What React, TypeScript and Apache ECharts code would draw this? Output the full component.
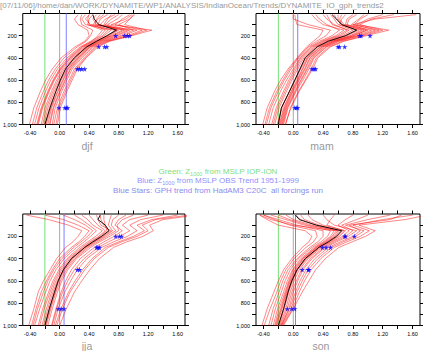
import React, { useEffect, useRef } from 'react';
import * as echarts from 'echarts';

// ---------- data ----------
const TITLE = '[07/11/06]/home/dan/WORK/DYNAMITE/WP1/ANALYSIS/IndianOcean/Trends/DYNAMITE_IO_gph_trends2';
const SEASONS = ['djf', 'mam', 'jja', 'son'];
const LEVELS = [10, 50, 100, 150, 200, 250, 300, 400, 500, 600, 700, 850, 1000];
const Y_RANGE = [0, 1000];
const X_RANGE = [-0.5, 1.7];
const X_LABELS = [-0.4, 0, 0.4, 0.8, 1.2, 1.6];
const X_TICKS = [-0.4, -0.2, 0, 0.2, 0.4, 0.6, 0.8, 1.0, 1.2, 1.4, 1.6];
const Y_LABELS = [200, 400, 600, 800, 1000];
const Y_TICKS = [100, 200, 300, 400, 500, 600, 700, 800, 900, 1000];
const GREEN_LINES = [-0.2, -0.2, -0.2, -0.2];
const ZERO_LINE = 0;
const BLUE_LINES = [0.09, 0.06, 0.06, 0.03];
const STAR_LEVELS = [200, 300, 500, 850];

const DJF_MEMBERS = [
  [0.75, 0.62, 0.55, 0.80, 0.68, 0.51, 0.37, 0.20, 0.08, 0.00, -0.07, -0.16, -0.21],
  [0.40, 0.35, 0.42, 1.05, 0.86, 0.62, 0.46, 0.30, 0.17, 0.10, 0.03, -0.06, -0.10],
  [0.98, 0.90, 0.70, 1.25, 0.98, 0.68, 0.52, 0.36, 0.24, 0.17, 0.10, 0.01, -0.03],
  [0.30, 0.28, 0.30, 0.45, 0.42, 0.36, 0.24, 0.06, -0.06, -0.15, -0.22, -0.31, -0.37],
  [0.55, 0.50, 0.48, 0.70, 0.60, 0.47, 0.33, 0.15, 0.02, -0.07, -0.14, -0.23, -0.29],
  [0.95, 0.85, 0.75, 1.12, 0.92, 0.64, 0.48, 0.33, 0.20, 0.13, 0.06, -0.03, -0.08],
  [0.60, 0.52, 0.45, 0.62, 0.55, 0.42, 0.28, 0.10, -0.03, -0.12, -0.19, -0.28, -0.34],
  [0.25, 0.20, 0.25, 0.38, 0.40, 0.34, 0.21, 0.02, -0.10, -0.19, -0.26, -0.35, -0.41],
  [0.85, 0.78, 0.65, 0.95, 0.78, 0.58, 0.42, 0.25, 0.12, 0.05, -0.02, -0.11, -0.16],
  [0.50, 0.45, 0.50, 0.88, 0.72, 0.53, 0.39, 0.22, 0.10, 0.02, -0.05, -0.14, -0.19],
  [1.02, 0.95, 0.88, 1.18, 0.95, 0.66, 0.50, 0.35, 0.22, 0.15, 0.08, -0.01, -0.05],
  [0.45, 0.40, 0.38, 0.58, 0.52, 0.44, 0.30, 0.12, 0.00, -0.09, -0.16, -0.25, -0.31],
  [0.70, 0.65, 0.60, 0.85, 0.70, 0.54, 0.40, 0.24, 0.11, 0.04, -0.03, -0.12, -0.18],
  [0.35, 0.30, 0.35, 0.75, 0.65, 0.49, 0.35, 0.17, 0.04, -0.04, -0.11, -0.20, -0.25],
  [1.00, 0.95, 0.80, 1.00, 0.82, 0.60, 0.44, 0.28, 0.15, 0.08, 0.01, -0.08, -0.13],
  [0.65, 0.55, 0.52, 0.92, 0.75, 0.56, 0.41, 0.26, 0.14, 0.07, 0.00, -0.09, -0.14],
  [0.40, 0.38, 0.40, 0.66, 0.58, 0.45, 0.31, 0.14, 0.01, -0.08, -0.15, -0.24, -0.30],
  [0.80, 0.70, 0.62, 0.78, 0.66, 0.50, 0.36, 0.19, 0.06, -0.02, -0.09, -0.18, -0.23],
];
const DJF_MEAN = [0.45, 0.47, 0.53, 0.77, 0.64, 0.50, 0.37, 0.20, 0.08, 0.01, -0.05, -0.13, -0.20];
const DJF_STARS = [[0.76, 0.88, 0.92, 0.95], [0.53, 0.61, 0.64], [0.24, 0.27, 0.30, 0.34], [-0.01, 0.07, 0.09, 0.11]];

const MAM_MEMBERS = [
  [0.55, 0.58, 0.65, 0.85, 0.70, 0.47, 0.32, 0.16, 0.09, 0.02, -0.05, -0.16, -0.21],
  [1.20, 1.00, 0.85, 1.28, 0.98, 0.68, 0.50, 0.33, 0.26, 0.17, 0.08, -0.03, -0.11],
  [0.02, 0.03, 0.05, 0.40, 0.36, 0.27, 0.18, 0.05, -0.07, -0.17, -0.25, -0.35, -0.41],
  [0.80, 0.72, 0.70, 1.05, 0.85, 0.58, 0.42, 0.25, 0.18, 0.10, 0.02, -0.09, -0.15],
  [0.40, 0.45, 0.55, 0.72, 0.60, 0.40, 0.26, 0.10, 0.02, -0.06, -0.13, -0.23, -0.29],
  [1.65, 1.10, 0.80, 1.15, 0.90, 0.62, 0.45, 0.28, 0.21, 0.13, 0.04, -0.07, -0.13],
  [0.30, 0.35, 0.45, 0.62, 0.52, 0.35, 0.22, 0.07, -0.03, -0.12, -0.20, -0.30, -0.36],
  [0.65, 0.62, 0.68, 0.92, 0.76, 0.52, 0.36, 0.19, 0.12, 0.05, -0.03, -0.13, -0.19],
  [0.95, 0.88, 0.78, 1.00, 0.80, 0.55, 0.39, 0.22, 0.15, 0.07, -0.01, -0.11, -0.17],
  [0.00, 0.00, 0.20, 0.50, 0.44, 0.31, 0.20, 0.06, -0.05, -0.14, -0.22, -0.32, -0.38],
  [0.50, 0.55, 0.60, 0.80, 0.66, 0.45, 0.30, 0.14, 0.06, -0.02, -0.09, -0.19, -0.25],
  [1.35, 1.05, 0.89, 1.20, 0.95, 0.66, 0.48, 0.31, 0.24, 0.16, 0.07, -0.04, -0.10],
  [0.70, 0.65, 0.62, 0.88, 0.72, 0.50, 0.34, 0.18, 0.10, 0.03, -0.05, -0.15, -0.21],
  [0.25, 0.30, 0.40, 0.68, 0.57, 0.38, 0.24, 0.09, 0.00, -0.09, -0.17, -0.27, -0.33],
  [1.00, 0.90, 0.82, 1.10, 0.88, 0.60, 0.44, 0.27, 0.19, 0.11, 0.03, -0.08, -0.14],
  [0.60, 0.60, 0.66, 0.95, 0.78, 0.53, 0.37, 0.20, 0.13, 0.06, -0.02, -0.12, -0.18],
  [0.45, 0.48, 0.52, 0.75, 0.63, 0.43, 0.28, 0.12, 0.04, -0.04, -0.11, -0.21, -0.27],
  [0.85, 0.75, 0.72, 0.98, 0.82, 0.56, 0.40, 0.23, 0.16, 0.08, 0.00, -0.10, -0.16],
];
const MAM_MEAN = [0.52, 0.58, 0.65, 0.85, 0.70, 0.47, 0.32, 0.16, 0.09, 0.02, -0.05, -0.16, -0.20];
const MAM_STARS = [[0.89, 0.91, 1.03], [0.60, 0.62, 0.69], [0.25, 0.28, 0.30], [0.02, 0.04, 0.06]];

const JJA_MEMBERS = [
  [0.55, 0.56, 0.60, 0.67, 0.57, 0.45, 0.34, 0.16, 0.05, -0.02, -0.07, -0.14, -0.20],
  [-0.45, -0.15, 0.12, 0.30, 0.25, 0.18, 0.08, -0.04, -0.13, -0.22, -0.29, -0.35, -0.42],
  [1.85, 1.40, 1.22, 1.27, 1.13, 0.91, 0.73, 0.54, 0.41, 0.30, 0.20, 0.09, 0.00],
  [0.90, 0.80, 0.75, 0.85, 0.74, 0.60, 0.47, 0.28, 0.16, 0.08, 0.02, -0.05, -0.11],
  [0.20, 0.30, 0.40, 0.50, 0.42, 0.33, 0.23, 0.06, -0.05, -0.13, -0.19, -0.27, -0.34],
  [1.60, 1.25, 1.05, 1.15, 1.00, 0.80, 0.62, 0.44, 0.31, 0.21, 0.12, 0.02, -0.06],
  [0.40, 0.45, 0.52, 0.62, 0.53, 0.41, 0.30, 0.12, 0.01, -0.07, -0.13, -0.21, -0.27],
  [1.20, 0.95, 0.85, 0.95, 0.82, 0.66, 0.52, 0.33, 0.20, 0.11, 0.04, -0.04, -0.10],
  [-0.20, 0.05, 0.25, 0.40, 0.34, 0.26, 0.16, 0.00, -0.10, -0.18, -0.25, -0.32, -0.38],
  [0.70, 0.68, 0.66, 0.72, 0.61, 0.48, 0.37, 0.19, 0.07, -0.01, -0.06, -0.13, -0.19],
  [1.75, 1.30, 1.12, 1.20, 1.05, 0.84, 0.66, 0.47, 0.34, 0.24, 0.14, 0.04, -0.04],
  [0.30, 0.38, 0.45, 0.58, 0.49, 0.38, 0.27, 0.10, -0.01, -0.09, -0.15, -0.23, -0.29],
  [1.00, 0.85, 0.78, 0.80, 0.68, 0.54, 0.42, 0.23, 0.11, 0.03, -0.03, -0.10, -0.16],
  [0.60, 0.60, 0.62, 0.64, 0.55, 0.43, 0.32, 0.14, 0.03, -0.05, -0.11, -0.18, -0.24],
  [1.40, 1.10, 0.95, 1.05, 0.92, 0.73, 0.57, 0.37, 0.24, 0.15, 0.07, -0.02, -0.08],
  [0.05, 0.20, 0.35, 0.45, 0.38, 0.29, 0.19, 0.03, -0.08, -0.16, -0.22, -0.30, -0.36],
  [0.80, 0.72, 0.70, 0.76, 0.64, 0.51, 0.39, 0.21, 0.09, 0.01, -0.05, -0.12, -0.18],
  [0.50, 0.52, 0.56, 0.70, 0.59, 0.47, 0.35, 0.17, 0.06, -0.03, -0.09, -0.16, -0.22],
];
const JJA_MEAN = [0.55, 0.52, 0.62, 0.67, 0.57, 0.45, 0.34, 0.16, 0.05, -0.02, -0.07, -0.14, -0.20];
const JJA_STARS = [[0.76, 0.81, 0.84], [0.50, 0.52, 0.54], [0.24, 0.27], [-0.02, 0.02, 0.06]];

const SON_MEMBERS = [
  [0.03, 0.10, 0.31, 0.65, 0.58, 0.47, 0.34, 0.16, 0.05, -0.02, -0.07, -0.13, -0.20],
  [-0.45, -0.30, 0.00, 0.55, 0.50, 0.40, 0.28, 0.10, -0.01, -0.08, -0.13, -0.21, -0.27],
  [1.80, 1.50, 0.88, 1.10, 0.97, 0.79, 0.61, 0.43, 0.30, 0.21, 0.12, 0.00, -0.13],
  [0.40, 0.45, 0.55, 0.85, 0.74, 0.58, 0.43, 0.25, 0.13, 0.06, 0.00, -0.06, -0.16],
  [-0.40, -0.25, -0.05, 0.30, 0.32, 0.27, 0.17, 0.01, -0.10, -0.17, -0.22, -0.31, -0.39],
  [1.30, 1.00, 0.70, 0.95, 0.84, 0.67, 0.51, 0.33, 0.20, 0.12, 0.05, -0.03, -0.15],
  [-0.20, -0.05, 0.20, 0.60, 0.54, 0.44, 0.31, 0.13, 0.02, -0.05, -0.10, -0.17, -0.24],
  [0.80, 0.70, 0.60, 0.75, 0.66, 0.52, 0.38, 0.20, 0.08, 0.01, -0.04, -0.10, -0.18],
  [-0.45, -0.35, -0.20, 0.16, 0.25, 0.21, 0.12, -0.02, -0.13, -0.20, -0.26, -0.35, -0.42],
  [1.60, 1.20, 0.80, 1.02, 0.90, 0.72, 0.55, 0.37, 0.24, 0.15, 0.08, -0.01, -0.14],
  [0.20, 0.25, 0.40, 0.70, 0.62, 0.50, 0.36, 0.18, 0.06, -0.01, -0.06, -0.12, -0.19],
  [-0.30, -0.10, 0.15, 0.50, 0.46, 0.37, 0.25, 0.07, -0.04, -0.11, -0.16, -0.24, -0.30],
  [1.00, 0.85, 0.65, 0.80, 0.70, 0.55, 0.41, 0.23, 0.11, 0.04, -0.02, -0.08, -0.17],
  [0.55, 0.50, 0.45, 0.68, 0.60, 0.48, 0.35, 0.17, 0.05, -0.03, -0.08, -0.15, -0.22],
  [-0.10, 0.00, 0.25, 0.58, 0.52, 0.42, 0.30, 0.12, 0.00, -0.06, -0.11, -0.19, -0.25],
  [1.45, 1.30, 0.75, 0.90, 0.80, 0.63, 0.47, 0.29, 0.17, 0.09, 0.03, -0.05, -0.16],
  [0.10, 0.15, 0.35, 0.62, 0.56, 0.45, 0.32, 0.14, 0.03, -0.04, -0.09, -0.16, -0.23],
  [-0.40, -0.20, 0.05, 0.40, 0.40, 0.33, 0.22, 0.05, -0.07, -0.14, -0.19, -0.27, -0.33],
];
const SON_MEAN = [0.03, 0.08, 0.31, 0.65, 0.58, 0.47, 0.34, 0.16, 0.05, -0.02, -0.07, -0.13, -0.20];
const SON_STARS = [[0.69, 0.70, 0.82], [0.39, 0.44, 0.50], [0.12, 0.20, 0.21], [-0.08, -0.02, 0.02]];

const PANEL_MEMBERS = [DJF_MEMBERS, MAM_MEMBERS, JJA_MEMBERS, SON_MEMBERS];
const PANEL_MEANS = [DJF_MEAN, MAM_MEAN, JJA_MEAN, SON_MEAN];
const PANEL_STARS = [DJF_STARS, MAM_STARS, JJA_STARS, SON_STARS];

// ---------- layout / style ----------
const FONT = '"Liberation Sans", Arial, sans-serif';
const GRIDS = [
  { left: 22.5, top: 13.5, width: 162.5, height: 111 },
  { left: 256, top: 13.5, width: 164, height: 111 },
  { left: 22.5, top: 214, width: 162.5, height: 111.5 },
  { left: 256, top: 214, width: 164, height: 111.5 },
];
const PANEL_LABEL_POS = [
  [87, 146],
  [322, 146],
  [87, 345.5],
  [321, 345.5],
];
const STAR_PATH =
  'path://M50,0 L61,35 L98,35 L68,57 L79,91 L50,70 L21,91 L32,57 L2,35 L39,35 Z';

function buildOption() {
  const grid: any[] = [];
  const xAxis: any[] = [];
  const yAxis: any[] = [];
  const series: any[] = [];
  const tickStyle = { color: '#000', width: 1 };

  GRIDS.forEach((g, k) => {
    grid.push({ ...g, show: true, borderColor: '#000', borderWidth: 1, backgroundColor: 'transparent' });
    const xBase = {
      type: 'value',
      gridIndex: k,
      min: X_RANGE[0],
      max: X_RANGE[1],
      axisLine: { show: false, onZero: false },
      splitLine: { show: false },
    };
    xAxis.push({
      ...xBase,
      position: 'bottom',
      axisTick: { show: true, inside: false, length: 3.5, customValues: X_TICKS, lineStyle: tickStyle },
      axisLabel: {
        show: true,
        customValues: X_LABELS,
        formatter: (v: number) => v.toFixed(2),
        fontSize: 5.5,
        fontFamily: FONT,
        color: '#000',
        margin: 5,
      },
    });
    xAxis.push({
      ...xBase,
      position: 'top',
      axisTick: { show: true, inside: false, length: 3.5, customValues: X_TICKS, lineStyle: tickStyle },
      axisLabel: { show: false },
    });
    const yBase = {
      type: 'value',
      gridIndex: k,
      inverse: true,
      min: Y_RANGE[0],
      max: Y_RANGE[1],
      interval: 200,
      axisLine: { show: false, onZero: false },
      splitLine: { show: false },
    };
    yAxis.push({
      ...yBase,
      position: 'left',
      axisTick: { show: true, inside: false, length: 4, customValues: Y_TICKS, lineStyle: tickStyle },
      axisLabel: {
        show: true,
        customValues: Y_LABELS,
        fontSize: 5.5,
        fontFamily: FONT,
        color: '#000',
        margin: 6,
      },
    });
    yAxis.push({
      ...yBase,
      position: 'right',
      axisTick: { show: true, inside: false, length: 4, customValues: Y_TICKS, lineStyle: tickStyle },
      axisLabel: { show: false },
    });

    const xi = 2 * k;
    const yi = 2 * k;
    const vline = (v: number, color: string) => ({
      type: 'line',
      xAxisIndex: xi,
      yAxisIndex: yi,
      data: [
        [v, Y_RANGE[0]],
        [v, Y_RANGE[1]],
      ],
      symbol: 'none',
      silent: true,
      lineStyle: { color, width: 1 },
      z: 1,
    });
    series.push(vline(ZERO_LINE, '#aaaaaa'));
    series.push(vline(GREEN_LINES[k], '#77e077'));
    series.push(vline(BLUE_LINES[k], '#8080ff'));

    PANEL_MEMBERS[k].forEach((m) => {
      series.push({
        type: 'line',
        xAxisIndex: xi,
        yAxisIndex: yi,
        data: LEVELS.map((p, i) => [m[i], p]),
        symbol: 'none',
        silent: true,
        clip: true,
        lineStyle: { color: 'rgba(255,0,0,0.6)', width: 0.8 },
        z: 2,
      });
    });
    series.push({
      type: 'line',
      xAxisIndex: xi,
      yAxisIndex: yi,
      data: LEVELS.map((p, i) => [PANEL_MEANS[k][i], p]),
      symbol: 'none',
      silent: true,
      clip: true,
      lineStyle: { color: '#000', width: 0.9 },
      z: 3,
    });
    const stars: number[][] = [];
    PANEL_STARS[k].forEach((vals, j) => vals.forEach((v) => stars.push([v, STAR_LEVELS[j]])));
    series.push({
      type: 'scatter',
      xAxisIndex: xi,
      yAxisIndex: yi,
      data: stars,
      symbol: STAR_PATH,
      symbolSize: 5.5,
      silent: true,
      itemStyle: { color: '#0000ff' },
      z: 4,
    });
  });

  const graphic: any[] = [
    {
      type: 'text',
      x: 0,
      y: 1,
      style: { text: TITLE, fill: '#999999', fontSize: 8, fontFamily: FONT },
    },
  ];
  const mid = (y: number, color: string, pre: string, post: string, sub: boolean) => ({
    type: 'text',
    x: 218,
    y,
    style: {
      text: sub ? `{a|${pre}}{s|1000}{a|${post}}` : `{a|${pre}}`,
      align: 'center',
      verticalAlign: 'middle',
      rich: {
        a: { fontSize: 8, fontFamily: FONT, fill: color, lineHeight: 10 },
        s: { fontSize: 5.5, fontFamily: FONT, fill: color, lineHeight: 6, verticalAlign: 'bottom' },
      },
    },
  });
  graphic.push(mid(171.7, '#80e080', 'Green: Z', ' from MSLP IOP-ION', true));
  graphic.push(mid(180.7, '#9090ff', 'Blue: Z', ' from MSLP OBS Trend 1951-1999', true));
  graphic.push(mid(190.7, '#8a8af0', 'Blue Stars: GPH trend from HadAM3 C20C  all forcings run', '', false));
  SEASONS.forEach((s, k) => {
    graphic.push({
      type: 'text',
      x: PANEL_LABEL_POS[k][0],
      y: PANEL_LABEL_POS[k][1],
      style: {
        text: s,
        fill: '#999999',
        fontSize: 10.5,
        fontFamily: FONT,
        align: 'center',
        verticalAlign: 'middle',
      },
    });
  });

  return {
    animation: false,
    backgroundColor: '#ffffff',
    grid,
    xAxis,
    yAxis,
    series,
    graphic,
  };
}

export default function App() {
  const ref = useRef<HTMLDivElement>(null);
  useEffect(() => {
    if (!ref.current) return;
    const chart = echarts.init(ref.current, undefined, { renderer: 'svg' });
    chart.setOption(buildOption() as any);
    return () => chart.dispose();
  }, []);
  return (
    <div
      ref={ref}
      style={{ position: 'absolute', left: 0, top: 0, width: 423, height: 351 }}
    />
  );
}
